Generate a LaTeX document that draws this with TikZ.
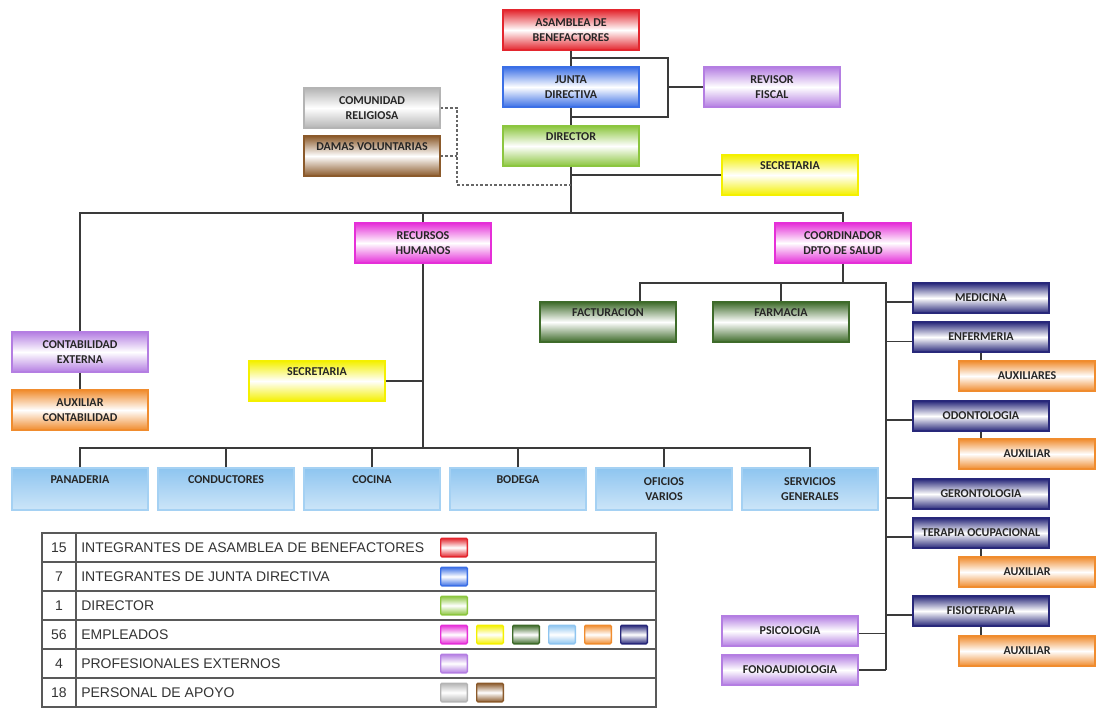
\documentclass[tikz,border=0pt]{standalone}
\usepackage{fontspec}
\setmainfont{Carlito}
\newfontfamily\legfont{Liberation Sans}
\usetikzlibrary{positioning}

\definecolor{cred}{HTML}{E3262E}
\definecolor{cblue}{HTML}{3B6FE6}
\definecolor{clgreen}{HTML}{8CC63F}
\definecolor{cviolet}{HTML}{B47EE2}
\definecolor{cgray}{HTML}{B4B4B4}
\definecolor{cbrown}{HTML}{8B5A2B}
\definecolor{cyellow}{HTML}{F4F000}
\definecolor{cmagenta}{HTML}{E52FD8}
\definecolor{cdgreen}{HTML}{3E6B2A}
\definecolor{csky}{HTML}{8EC5F0}
\definecolor{corange}{HTML}{F08C2E}
\definecolor{cnavy}{HTML}{28287A}
\definecolor{cline}{HTML}{3A3A3A}

\begin{document}
\begin{tikzpicture}[x=0.75pt, y=-0.75pt,
    org/.style={draw=#1, line width=1.1pt, top color=#1, bottom color=#1, middle color=white,
        minimum width=102pt, minimum height=30pt, inner sep=0pt, align=center,
        font=\fontsize{9}{11.25}\selectfont\bfseries, text=black!85},
    orgs/.style={org=#1, minimum height=22.5pt},
    orgb/.style={org=csky, draw=csky!80, bottom color=csky!45, minimum height=31.5pt},
    swatch/.style={draw=#1, line width=1pt, top color=#1, bottom color=#1, middle color=white,
        minimum width=20pt, minimum height=14pt, inner sep=0pt, rounded corners=1pt},
    conn/.style={draw=cline, line width=0.8pt}]
\useasboundingbox (0,0) rectangle (1096,709);

\node[org=cred] (asam) at (571,30) {ASAMBLEA DE\\BENEFACTORES};
\node[org=cblue] (junta) at (571,87) {JUNTA\\DIRECTIVA};
\node[org=clgreen] (dir) at (571,146) {DIRECTOR\\\strut};
\node[org=cviolet] (rev) at (772,87) {REVISOR\\FISCAL};
\node[org=cgray] (com) at (372,108) {COMUNIDAD\\RELIGIOSA};
\node[org=cbrown] (damas) at (372,156) {DAMAS VOLUNTARIAS\\\strut};
\node[org=cyellow] (sec1) at (790,175) {SECRETARIA\\\strut};
\node[org=cmagenta] (rh) at (423,243) {RECURSOS\\HUMANOS};
\node[org=cmagenta] (coord) at (843,243) {COORDINADOR\\DPTO DE SALUD};
\node[org=cviolet] (cont) at (80,352) {CONTABILIDAD\\EXTERNA};
\node[org=corange] (auxc) at (80,410) {AUXILIAR\\CONTABILIDAD};
\node[org=cyellow] (sec2) at (317,381) {SECRETARIA\\\strut};

\node[orgb] (pan) at (80,489) {PANADERIA\\\strut};
\node[orgb, right=6.4pt of pan] (cond) {CONDUCTORES\\\strut};
\node[orgb, right=6.4pt of cond] (coc) {COCINA\\\strut};
\node[orgb, right=6.4pt of coc] (bod) {BODEGA\\\strut};
\node[orgb, right=6.4pt of bod] (ofi) {OFICIOS\\VARIOS};
\node[orgb, right=6.4pt of ofi] (serv) {SERVICIOS\\GENERALES};

\node[org=cdgreen] (fact) at (608,322) {FACTURACION\\\strut};
\node[org=cdgreen] (farm) at (781,322) {FARMACIA\\\strut};

\node[orgs=cnavy] (med) at (981,298) {MEDICINA};
\node[orgs=cnavy, below=5.7pt of med] (enf) {ENFERMERIA};
\node[orgs=corange] (aux1) at (1027,376) {AUXILIARES};
\node[orgs=cnavy] (odo) at (981,416) {ODONTOLOGIA};
\node[orgs=corange] (aux2) at (1027,454) {AUXILIAR};
\node[orgs=cnavy] (ger) at (981,494) {GERONTOLOGIA};
\node[orgs=cnavy] (ter) at (981,533) {TERAPIA OCUPACIONAL};
\node[orgs=corange] (aux3) at (1027,572) {AUXILIAR};
\node[orgs=cnavy] (fis) at (981,611) {FISIOTERAPIA};
\node[orgs=corange] (aux4) at (1027,651) {AUXILIAR};
\node[orgs=cviolet] (psi) at (790,631) {PSICOLOGIA};
\node[orgs=cviolet] (fono) at (790,670) {FONOAUDIOLOGIA};

\coordinate (brk1) at (668,58);
\coordinate (brk2) at (668,117);
\coordinate (bus1) at (571,213);
\coordinate (dsh) at (457,185);
\coordinate (bus2) at (423,448);
\coordinate (bus3) at (886,283);

\draw[conn] (asam.south) -- (junta.north) (junta.south) -- (dir.north);
\draw[conn] (brk1 -| asam.south) -- (brk1) -- (brk2) -- (brk2 -| dir.north);
\draw[conn] (rev.west) -- (rev.west -| brk1);
\draw[conn] (dir.south) -- (bus1);
\draw[conn] (sec1.west) -- (sec1.west -| dir.south);
\draw[conn, draw=black!60, dash pattern=on 2pt off 1.5pt] (com.east) -| (dsh) -- (dsh -| dir.south);
\draw[conn, draw=black!60, dash pattern=on 2pt off 1.5pt] (damas.east) -- (damas.east -| dsh);
\draw[conn] (cont.north) |- (bus1) -| (coord.north);
\draw[conn] (rh.north) -- (rh.north |- bus1);
\draw[conn] (cont.south) -- (auxc.north);

\draw[conn] (rh.south) -- (bus2);
\draw[conn] (sec2.east) -- (sec2.east -| rh.south);
\draw[conn] (pan.north) |- (bus2) -| (serv.north);
\foreach \n in {cond,coc,bod,ofi}
    \draw[conn] (\n.north) -- (\n.north |- bus2);

\draw[conn] (coord.south) -- (coord.south |- bus3);
\draw[conn] ([xshift=24pt]fact.north) |- (bus3) -- (bus3 |- fono.east);
\draw[conn] (farm.north) -- (farm.north |- bus3);
\foreach \n in {med,enf,odo,ger,ter,fis}
    \draw[conn] ([yshift=-3pt]\n.west) -- ([yshift=-3pt]\n.west -| bus3);
\draw[conn] (enf.south) -- (enf.south |- aux1.north);
\draw[conn] (odo.south) -- (odo.south |- aux2.north);
\draw[conn] (ter.south) -- (ter.south |- aux3.north);
\draw[conn] (fis.south) -- (fis.south |- aux4.north);
\draw[conn] ([yshift=-2pt]psi.east) -- ([yshift=-2pt]psi.east -| bus3);
\draw[conn] (fono.east) -- (fono.east -| bus3);

\draw[draw=black!65, line width=0.9pt] (42,533) rectangle (656,707);
\foreach \r in {562,591,620,649,678}
    \draw[draw=black!65, line width=0.9pt] (42,\r) -- (656,\r);
\draw[draw=black!65, line width=0.9pt] (76,533) -- (76,707);
\foreach \i/\num/\txt in {1/15/INTEGRANTES DE ASAMBLEA DE BENEFACTORES, 2/7/INTEGRANTES DE JUNTA DIRECTIVA,
        3/1/DIRECTOR, 4/56/EMPLEADOS, 5/4/PROFESIONALES EXTERNOS, 6/18/PERSONAL DE APOYO} {
    \node[font=\legfont\fontsize{10.5}{12}\selectfont, text=black!80] (n\i) at (59,518.5+29*\i) {\num};
    \node[font=\legfont\fontsize{10.5}{12}\selectfont, text=black!80, anchor=west, inner sep=0pt] (t\i) at (81,518.5+29*\i) {\txt};
}
\node[swatch=cred] (s1) at (454,547.5) {};
\node[swatch=cblue] (s2) at (454,576.5) {};
\node[swatch=clgreen] (s3) at (454,605.5) {};
\foreach \k/\c in {0/cmagenta,1/cyellow,2/cdgreen,3/csky,4/corange,5/cnavy}
    \node[swatch=\c] (e\k) at (454+36*\k,634.5) {};
\node[swatch=cviolet] (s5) at (454,663.5) {};
\node[swatch=cgray] (s6) at (454,692.5) {};
\node[swatch=cbrown] (s7) at (490,692.5) {};
\end{tikzpicture}
\end{document}
